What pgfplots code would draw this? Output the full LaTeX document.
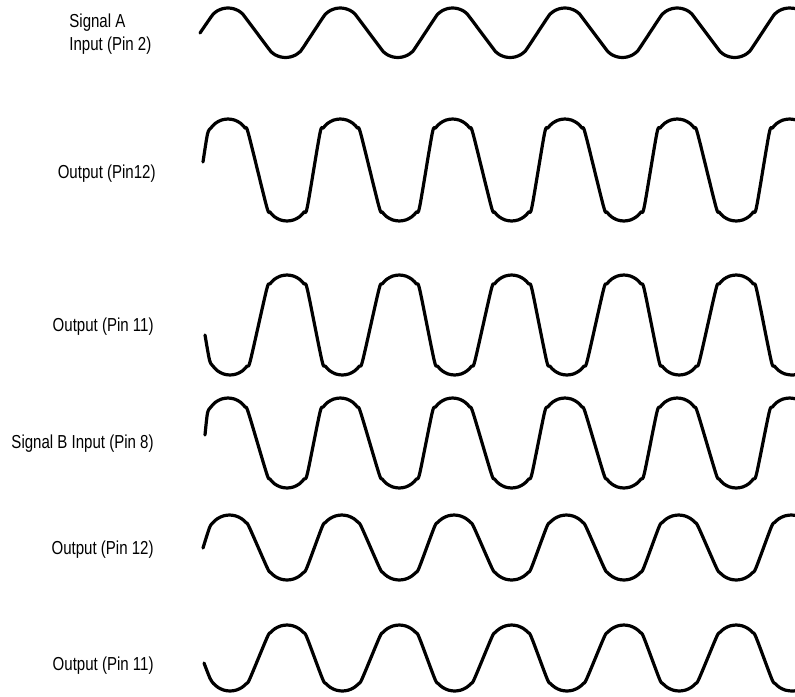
\documentclass[border=0pt]{standalone}
\usepackage{pgfplots}
\pgfplotsset{compat=1.18}
\usepackage{fontspec}
\setmainfont{Liberation Sans}[FakeStretch=0.8]
\pgfplotsset{wave/.style={black, line width=1.6pt, smooth, tension=0.5,
    line join=round, line cap=round, mark=none}}
\begin{document}
\begin{tikzpicture}[lbl/.style={font=\fontsize{9.4}{11}\selectfont, inner sep=0pt}]
% 1 px of the drawing = 0.5pt
\useasboundingbox (0,0) rectangle (397.5pt,348pt);
\begin{axis}[
    at={(0,0)}, anchor=south west,
    scale only axis, width=397.5pt, height=348pt,
    xmin=0, xmax=795, ymin=0, ymax=696, y dir=reverse,
    hide axis,
]
% Signal A input (Pin 2)
\addplot[wave] coordinates {(200,33)
(210.6,17.6)(214,13.4)(218,10.5)(223,8.6)(228,8)(233,8.6)(238,10.5)(242,13.4)(245.4,17.6)
(268.1,47.9)(271.5,52.1)(275.5,55)(280.5,56.9)(285.5,57.5)(290.5,56.9)(295.5,55)(299.5,52.1)(302.9,47.9)
(322.9,17.6)(326.3,13.4)(330.3,10.5)(335.3,8.6)(340.3,8)(345.3,8.6)(350.3,10.5)(354.3,13.4)(357.7,17.6)
(380.4,47.9)(383.8,52.1)(387.8,55)(392.8,56.9)(397.8,57.5)(402.8,56.9)(407.8,55)(411.8,52.1)(415.2,47.9)
(435.2,17.6)(438.6,13.4)(442.6,10.5)(447.6,8.6)(452.6,8)(457.6,8.6)(462.6,10.5)(466.6,13.4)(470,17.6)
(492.7,47.9)(496.1,52.1)(500.1,55)(505.1,56.9)(510.1,57.5)(515.1,56.9)(520.1,55)(524.1,52.1)(527.5,47.9)
(547.5,17.6)(550.9,13.4)(554.9,10.5)(559.9,8.6)(564.9,8)(569.9,8.6)(574.9,10.5)(578.9,13.4)(582.3,17.6)
(605,47.9)(608.4,52.1)(612.4,55)(617.4,56.9)(622.4,57.5)(627.4,56.9)(632.4,55)(636.4,52.1)(639.8,47.9)
(659.8,17.6)(663.2,13.4)(667.2,10.5)(672.2,8.6)(677.2,8)(682.2,8.6)(687.2,10.5)(691.2,13.4)(694.6,17.6)
(717.3,47.9)(720.7,52.1)(724.7,55)(729.7,56.9)(734.7,57.5)(739.7,56.9)(744.7,55)(748.7,52.1)(752.1,47.9)
(772.1,17.6)(775.5,13.4)(779.5,10.5)(784.5,8.6)(789.5,8)(795,8.5)};
% Output (Pin12)
\addplot[wave] coordinates {(203,162)
(207.5,134)(210.8,128.1)(215.4,123.3)(221.3,120.1)(228,119)(234.7,120.1)(240.6,123.3)(245.2,128.1)(248.5,134)
(266.5,206)(269.8,211.9)(274.4,216.7)(280.3,219.9)(287,221)(293.7,219.9)(299.6,216.7)(304.2,211.9)(307.5,206)
(319.8,134)(323.1,128.1)(327.7,123.3)(333.6,120.1)(340.3,119)(347,120.1)(352.9,123.3)(357.5,128.1)(360.8,134)
(378.8,206)(382.1,211.9)(386.7,216.7)(392.6,219.9)(399.3,221)(406,219.9)(411.9,216.7)(416.5,211.9)(419.8,206)
(432.1,134)(435.4,128.1)(440,123.3)(445.9,120.1)(452.6,119)(459.3,120.1)(465.2,123.3)(469.8,128.1)(473.1,134)
(491.1,206)(494.4,211.9)(499,216.7)(504.9,219.9)(511.6,221)(518.3,219.9)(524.2,216.7)(528.8,211.9)(532.1,206)
(544.4,134)(547.7,128.1)(552.3,123.3)(558.2,120.1)(564.9,119)(571.6,120.1)(577.5,123.3)(582.1,128.1)(585.4,134)
(603.4,206)(606.7,211.9)(611.3,216.7)(617.2,219.9)(623.9,221)(630.6,219.9)(636.5,216.7)(641.1,211.9)(644.4,206)
(656.7,134)(660,128.1)(664.6,123.3)(670.5,120.1)(677.2,119)(683.9,120.1)(689.8,123.3)(694.4,128.1)(697.7,134)
(715.7,206)(719,211.9)(723.6,216.7)(729.5,219.9)(736.2,221)(742.9,219.9)(748.8,216.7)(753.4,211.9)(756.7,206)
(769,134)(772.3,128.1)(776.9,123.3)(782.8,120.1)(789.5,119)(795,119.7)};
% Output (Pin 11)
\addplot[wave] coordinates {(205,335)
(209.5,360)(212.8,365.9)(217.4,370.7)(223.3,373.9)(230,375)(236.7,373.9)(242.6,370.7)(247.2,365.9)(250.5,360)
(266.5,290)(269.8,284.1)(274.4,279.3)(280.3,276.1)(287,275)(293.7,276.1)(299.6,279.3)(304.2,284.1)(307.5,290)
(321.8,360)(325.1,365.9)(329.7,370.7)(335.6,373.9)(342.3,375)(349,373.9)(354.9,370.7)(359.5,365.9)(362.8,360)
(378.8,290)(382.1,284.1)(386.7,279.3)(392.6,276.1)(399.3,275)(406,276.1)(411.9,279.3)(416.5,284.1)(419.8,290)
(434.1,360)(437.4,365.9)(442,370.7)(447.9,373.9)(454.6,375)(461.3,373.9)(467.2,370.7)(471.8,365.9)(475.1,360)
(491.1,290)(494.4,284.1)(499,279.3)(504.9,276.1)(511.6,275)(518.3,276.1)(524.2,279.3)(528.8,284.1)(532.1,290)
(546.4,360)(549.7,365.9)(554.3,370.7)(560.2,373.9)(566.9,375)(573.6,373.9)(579.5,370.7)(584.1,365.9)(587.4,360)
(603.4,290)(606.7,284.1)(611.3,279.3)(617.2,276.1)(623.9,275)(630.6,276.1)(636.5,279.3)(641.1,284.1)(644.4,290)
(658.7,360)(662,365.9)(666.6,370.7)(672.5,373.9)(679.2,375)(685.9,373.9)(691.8,370.7)(696.4,365.9)(699.7,360)
(715.7,290)(719,284.1)(723.6,279.3)(729.5,276.1)(736.2,275)(742.9,276.1)(748.8,279.3)(753.4,284.1)(756.7,290)
(771,360)(774.3,365.9)(778.9,370.7)(784.8,373.9)(791.5,375)(795,374.7)};
% Signal B input (Pin 8)
\addplot[wave] coordinates {(205,435)
(207.5,413)(210.8,407.1)(215.4,402.3)(221.3,399.1)(228,398)(234.7,399.1)(240.6,402.3)(245.2,407.1)(248.5,413)
(266.5,473)(269.8,478.9)(274.4,483.7)(280.3,486.9)(287,488)(293.7,486.9)(299.6,483.7)(304.2,478.9)(307.5,473)
(319.8,413)(323.1,407.1)(327.7,402.3)(333.6,399.1)(340.3,398)(347,399.1)(352.9,402.3)(357.5,407.1)(360.8,413)
(378.8,473)(382.1,478.9)(386.7,483.7)(392.6,486.9)(399.3,488)(406,486.9)(411.9,483.7)(416.5,478.9)(419.8,473)
(432.1,413)(435.4,407.1)(440,402.3)(445.9,399.1)(452.6,398)(459.3,399.1)(465.2,402.3)(469.8,407.1)(473.1,413)
(491.1,473)(494.4,478.9)(499,483.7)(504.9,486.9)(511.6,488)(518.3,486.9)(524.2,483.7)(528.8,478.9)(532.1,473)
(544.4,413)(547.7,407.1)(552.3,402.3)(558.2,399.1)(564.9,398)(571.6,399.1)(577.5,402.3)(582.1,407.1)(585.4,413)
(603.4,473)(606.7,478.9)(611.3,483.7)(617.2,486.9)(623.9,488)(630.6,486.9)(636.5,483.7)(641.1,478.9)(644.4,473)
(656.7,413)(660,407.1)(664.6,402.3)(670.5,399.1)(677.2,398)(683.9,399.1)(689.8,402.3)(694.4,407.1)(697.7,413)
(715.7,473)(719,478.9)(723.6,483.7)(729.5,486.9)(736.2,488)(742.9,486.9)(748.8,483.7)(753.4,478.9)(756.7,473)
(769,413)(772.3,407.1)(776.9,402.3)(782.8,399.1)(789.5,398)(795,398.7)};
% Output (Pin 12)
\addplot[wave] coordinates {(203,548)
(209.5,527.7)(213,522.5)(217.7,518.5)(223.3,515.9)(229.5,515)(235.7,515.9)(241.3,518.5)(246,522.5)(249.5,527.7)
(267,567.3)(270.5,572.5)(275.2,576.5)(280.8,579.1)(287,580)(293.2,579.1)(298.8,576.5)(303.5,572.5)(307,567.3)
(321.8,527.7)(325.3,522.5)(330,518.5)(335.6,515.9)(341.8,515)(348,515.9)(353.6,518.5)(358.3,522.5)(361.8,527.7)
(379.3,567.3)(382.8,572.5)(387.5,576.5)(393.1,579.1)(399.3,580)(405.5,579.1)(411.1,576.5)(415.8,572.5)(419.3,567.3)
(434.1,527.7)(437.6,522.5)(442.3,518.5)(447.9,515.9)(454.1,515)(460.3,515.9)(465.9,518.5)(470.6,522.5)(474.1,527.7)
(491.6,567.3)(495.1,572.5)(499.8,576.5)(505.4,579.1)(511.6,580)(517.8,579.1)(523.4,576.5)(528.1,572.5)(531.6,567.3)
(546.4,527.7)(549.9,522.5)(554.6,518.5)(560.2,515.9)(566.4,515)(572.6,515.9)(578.2,518.5)(582.9,522.5)(586.4,527.7)
(603.9,567.3)(607.4,572.5)(612.1,576.5)(617.7,579.1)(623.9,580)(630.1,579.1)(635.7,576.5)(640.4,572.5)(643.9,567.3)
(658.7,527.7)(662.2,522.5)(666.9,518.5)(672.5,515.9)(678.7,515)(684.9,515.9)(690.5,518.5)(695.2,522.5)(698.7,527.7)
(716.2,567.3)(719.7,572.5)(724.4,576.5)(730,579.1)(736.2,580)(742.4,579.1)(748,576.5)(752.7,572.5)(756.2,567.3)
(771,527.7)(774.5,522.5)(779.2,518.5)(784.8,515.9)(791,515)(795,515.4)};
% Output (Pin 11)
\addplot[wave] coordinates {(204,663)
(210,678.3)(213.5,683.5)(218.2,687.5)(223.8,690.1)(230,691)(236.2,690.1)(241.8,687.5)(246.5,683.5)(250,678.3)
(267,637.7)(270.5,632.5)(275.2,628.5)(280.8,625.9)(287,625)(293.2,625.9)(298.8,628.5)(303.5,632.5)(307,637.7)
(322.3,678.3)(325.8,683.5)(330.5,687.5)(336.1,690.1)(342.3,691)(348.5,690.1)(354.1,687.5)(358.8,683.5)(362.3,678.3)
(379.3,637.7)(382.8,632.5)(387.5,628.5)(393.1,625.9)(399.3,625)(405.5,625.9)(411.1,628.5)(415.8,632.5)(419.3,637.7)
(434.6,678.3)(438.1,683.5)(442.8,687.5)(448.4,690.1)(454.6,691)(460.8,690.1)(466.4,687.5)(471.1,683.5)(474.6,678.3)
(491.6,637.7)(495.1,632.5)(499.8,628.5)(505.4,625.9)(511.6,625)(517.8,625.9)(523.4,628.5)(528.1,632.5)(531.6,637.7)
(546.9,678.3)(550.4,683.5)(555.1,687.5)(560.7,690.1)(566.9,691)(573.1,690.1)(578.7,687.5)(583.4,683.5)(586.9,678.3)
(603.9,637.7)(607.4,632.5)(612.1,628.5)(617.7,625.9)(623.9,625)(630.1,625.9)(635.7,628.5)(640.4,632.5)(643.9,637.7)
(659.2,678.3)(662.7,683.5)(667.4,687.5)(673,690.1)(679.2,691)(685.4,690.1)(691,687.5)(695.7,683.5)(699.2,678.3)
(716.2,637.7)(719.7,632.5)(724.4,628.5)(730,625.9)(736.2,625)(742.4,625.9)(748,628.5)(752.7,632.5)(756.2,637.7)
(771.5,678.3)(775,683.5)(779.7,687.5)(785.3,690.1)(791.5,691)(795,690.8)};
% labels
\node[lbl, anchor=base west] at (axis cs:69,27) {Signal A};
\node[lbl, anchor=base west] at (axis cs:69,50) {Input (Pin 2)};
\node[lbl, anchor=base east] at (axis cs:156,178) {Output (Pin12)};
\node[lbl, anchor=base east] at (axis cs:154,331) {Output (Pin 11)};
\node[lbl, anchor=base east] at (axis cs:154,448.5) {Signal B Input (Pin 8)};
\node[lbl, anchor=base east] at (axis cs:154,554) {Output (Pin 12)};
\node[lbl, anchor=base east] at (axis cs:154,670) {Output (Pin 11)};
\end{axis}
\end{tikzpicture}
\end{document}
